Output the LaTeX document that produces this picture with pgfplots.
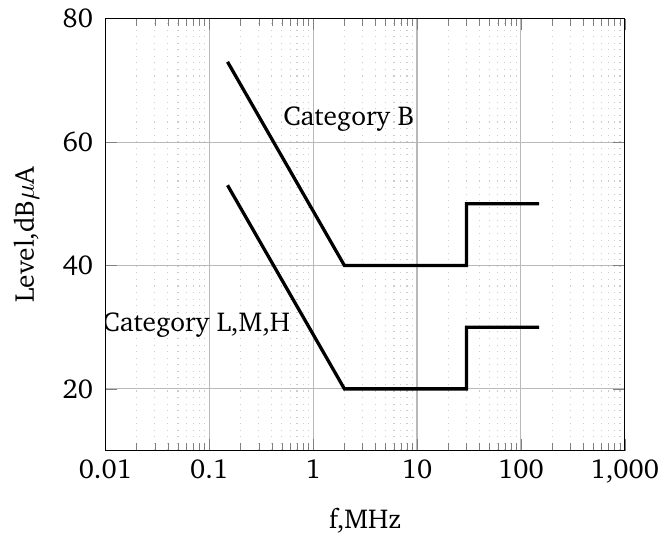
\documentclass[border=0pt]{standalone}
\IfFileExists{t1bch.fd}{\usepackage[T1]{fontenc}\usepackage{charter}}{\usepackage{fontspec}\setmainfont{DejaVu Serif}}
\usepackage{pgfplots}
\pgfplotsset{compat=1.18}
\begin{document}
\begin{tikzpicture}
\begin{axis}[
  scale only axis,
  width=190pt, height=158pt,
  xmode=log,
  xmin=0.01, xmax=1000,
  ymin=10, ymax=80,
  ytick={20,40,60,80},
  log ticks with fixed point,
  /pgf/number format/assume math mode=true,
  grid=both,
  major grid style={gray!55},
  minor grid style={gray!40, dotted},
  xlabel={f,MHz},
  ylabel={Level,dB$\mu$A},
  yticklabel style={xshift=-1pt},
  xticklabel style={inner xsep=0pt},
  every axis y label/.append style={inner sep=5pt},
  every axis x label/.append style={yshift=-2pt},
]
\addplot[black, line width=1.2pt] coordinates {(0.15,73) (2,40) (30,40) (30,50) (150,50)};
\addplot[black, line width=1.2pt] coordinates {(0.15,53) (2,20) (30,20) (30,30) (150,30)};
\node at (axis cs:2.2,63.8) {Category B};
\node at (axis cs:0.075,30.4) {Category L,M,H};
\end{axis}
\end{tikzpicture}
\end{document}
